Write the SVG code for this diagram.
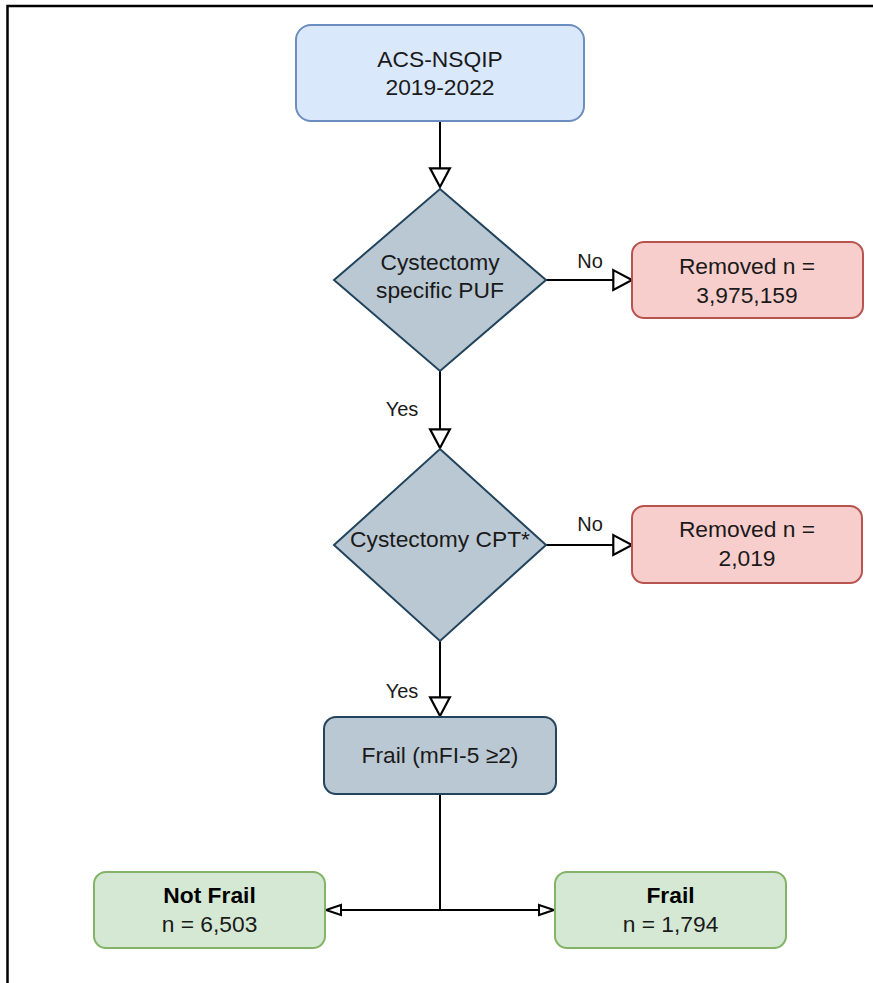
<svg xmlns="http://www.w3.org/2000/svg" width="873" height="983" viewBox="0 0 873 983">
<style>
text{font-family:"Liberation Sans",Arial,sans-serif;font-size:22.8px;fill:#1a1a1a;text-anchor:middle}
.b{font-weight:bold;fill:#000}
.lbl{font-size:20px}
.blue{fill:#dae8fc;stroke:#6c8ebf;stroke-width:2}
.dia{fill:#bac8d3;stroke:#23445d;stroke-width:2}
.red{fill:#f8cecc;stroke:#b85450;stroke-width:2}
.green{fill:#d5e8d4;stroke:#82b366;stroke-width:2}
.edge{fill:none;stroke:#000;stroke-width:2}
</style>
<defs>
<marker id="big" markerUnits="userSpaceOnUse" markerWidth="22" markerHeight="22" viewBox="-1 -10 20 20" refX="17" refY="0" orient="auto" overflow="visible">
<path d="M0,-9 L17,0 L0,9 Z" fill="#fff" stroke="#000" stroke-width="2"/>
</marker>
<marker id="small" markerUnits="userSpaceOnUse" markerWidth="18" markerHeight="12" viewBox="-1 -6 17 12" refX="15" refY="0" orient="auto" overflow="visible">
<path d="M0,-5 L15,0 L0,5 Z" fill="#fff" stroke="#000" stroke-width="2"/>
</marker>
</defs>
<rect width="873" height="983" fill="#fff"/>
<path d="M7.5,983 V6 H873" fill="none" stroke="#000" stroke-width="2.5"/>
<g id="connectors">
<path class="edge" d="M440,121 V187" marker-end="url(#big)"/>
<path class="edge" d="M546,280 H632" marker-end="url(#big)"/>
<text class="lbl" x="590" y="268">No</text>
<path class="edge" d="M440,371 V448" marker-end="url(#big)"/>
<text class="lbl" x="402" y="416">Yes</text>
<path class="edge" d="M546,545 H632" marker-end="url(#big)"/>
<text class="lbl" x="590" y="531">No</text>
<path class="edge" d="M440,641 V716" marker-end="url(#big)"/>
<text class="lbl" x="402" y="698">Yes</text>
<path class="edge" d="M440,794 V910 H326" marker-end="url(#small)"/>
<path class="edge" d="M440,910 H554" marker-end="url(#small)"/>
</g>
<g id="n1">
<rect class="blue" x="296" y="25" width="288" height="96" rx="15"/>
<text x="440" y="67">ACS-NSQIP</text>
<text x="440" y="95">2019-2022</text>
</g>
<g id="n2">
<path class="dia" d="M440,189 L546,280 L440,371 L334,280 Z"/>
<text x="440" y="270">Cystectomy</text>
<text x="440" y="298">specific PUF</text>
</g>
<g id="n3">
<rect class="red" x="632" y="242" width="231" height="76" rx="12"/>
<text x="747" y="274">Removed n =</text>
<text x="747" y="303">3,975,159</text>
</g>
<g id="n4">
<path class="dia" d="M440,449 L546,545 L440,641 L334,545 Z"/>
<text x="440" y="547">Cystectomy CPT*</text>
</g>
<g id="n5">
<rect class="red" x="632" y="506" width="230" height="77" rx="12"/>
<text x="747" y="537">Removed n =</text>
<text x="747" y="566">2,019</text>
</g>
<g id="n6">
<rect class="dia" x="324" y="717" width="232" height="77" rx="12"/>
<text x="440" y="763">Frail (mFI-5 ≥2)</text>
</g>
<g id="n7">
<rect class="green" x="94" y="872" width="231" height="76" rx="12"/>
<text class="b" x="209.5" y="903">Not Frail</text>
<text x="209.5" y="932">n = 6,503</text>
</g>
<g id="n8">
<rect class="green" x="555" y="872" width="231" height="76" rx="12"/>
<text class="b" x="670.5" y="903">Frail</text>
<text x="670.5" y="932">n = 1,794</text>
</g>
</svg>
